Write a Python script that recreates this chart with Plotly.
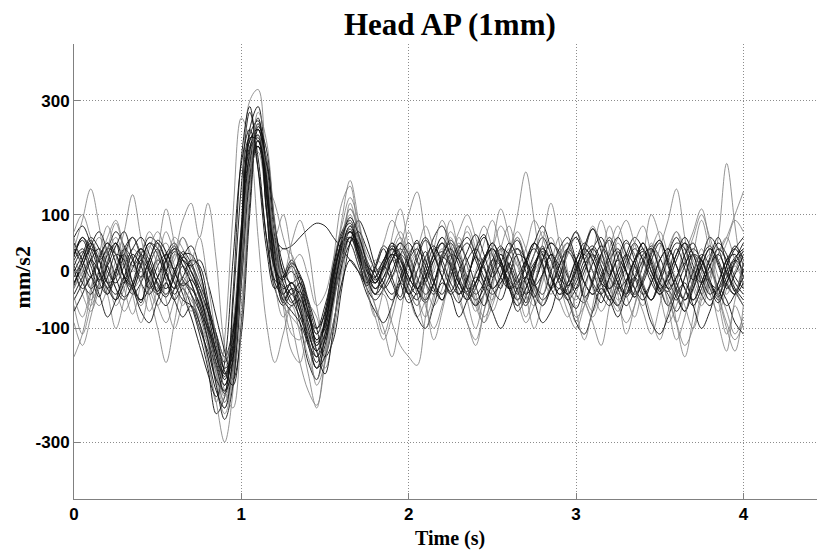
import plotly.graph_objects as go

# Sampling grid (s)
time_s = [round(0.05 * i, 2) for i in range(81)]

# Each trial: 81 samples, t = 0.00 ... 4.00 s (step 0.05 s), values in mm/s2
trial_01 = [30, 55, 20, -20, -40, -5, 40, 60, 25, -15, -35, 0, 35, 20,
            -10, -40, -90, -150, -200, -140, 60, 230, 250, 130, 10, -40, -20, -50, -110, -140, -80, 10, 70, 90, 40, -10, -30,
            -10, 30, 50, 15, -30, -55, -20, 25, 55, 30, -10, -40, -20, 20, 45, 10, -35, -60, -25, 20, 50, 35, -5, -40, -55, -15, 30, 60, 25, -20, -45, -10, 35, 55, 15, -30, -50, -15, 25, 45, 10, -25, -40, 5]
trial_02 = [-20, 10, 45, 70, 35, -10, -45, -25, 15, 50, 30, -15, -50, -30,
            -60, -110, -170, -250, -220, -60, 150, 280, 200, 60, -30, -60, -40, -90, -160, -190, -110, -20, 50, 60, 20, -20, 10,
            45, 25, -20, -55, -35, 10, 60, 80, 40, -15, -50, -30, 15, 40, 20, -25, -70, -45, 5, 40, 20, -20, -40, -10, 35, 75, 50, 5, -30, -60, -35, 10, 45, 25, -15, -45, -70, -30, 20, 60, 40, -5, -35, -60]
trial_03 = [60, 80, 50, 20, 40, 70, 45, 10, 30, 60, 50, 20, 5, 25,
            10, -30, -70, -120, -160, -110, 40, 190, 220, 140, 40, -10, 0, -30, -80, -100, -60, 0, 50, 70, 45, 10, -15,
            5, 30, 20, -10, -30, -10, 20, 35, 15, -20, -35, -5, 25, 40, 15, -15, -30, -10, 15, 35, 20, -10, -25, 0, 30, 45, 20, -10, -30, -15, 20, 35, 10, -20, -35, -10, 15, 30, 5, -20, -30, 0, 25, 40]
trial_04 = [-90, -130, -80, -20, 10, -30, -70, -40, 0, -20, -60, -90, -50, -10,
            -40, -90, -160, -230, -300, -210, 60, 300, 320, 150, -20, -80, -60, -110, -180, -240, -150, -30, 60, 100, 50, -10, -40,
            -20, 20, 10, -40, -80, -50, 0, 30, 0, -40, -90, -120, -70, -20, 10, -20, -60, -40, 0, 20, -10, -50, -80, -40, 10, 40, 10, -30, -60, -90, -60, -10, 20, -10, -50, -90, -130, -100, -40, 0, -30, -70, -110, -80]
trial_05 = [40, 90, 145, 80, -10, -50, -20, 30, 10, -40, -100, -160, -90, -20,
            0, -50, -110, -180, -230, -160, 30, 200, 240, 160, 120, 60, 10, -60, -130, -170, -100, -10, 90, 160, 90, 10, -30,
            -20, 30, 60, 20, -40, -80, -40, 20, 60, 30, 80, 40, -30, -70, -30, 30, 70, 40, -20, -60, -30, 20, 50, 10, -40, -70, -20, 40, 80, 30, -30, -60, -10, 40, 90, 145, 60, -20, -50, -10, 60, 190, 80, -30]
trial_06 = [-150, -110, -40, 20, -10, -60, -30, 20, 40, 0, -40, -20, 30, 10,
            -40, -90, -130, -190, -240, -180, -20, 170, 230, 150, 40, -30, -90, -160, -210, -235, -160, -50, 40, 70, 30, -20, -60,
            -100, -150, -80, 0, 30, -20, -60, -30, 20, 50, 10, -40, -80, -50, 0, 40, 10, -40, -60, -20, 30, 20, -30, -80, -60, -10, 30, 0, -50, -30, 20, 50, 10, -40, -90, -60, -10, 30, 0, -40, -70, -30, 10, -20]
trial_07 = [20, -10, -50, -20, 30, 60, 20, -30, -10, 40, 70, 30, -20, -10,
            -40, -90, -150, -230, -120, 100, 270, 230, 60, -90, -160, -110, -60, -50, -90, -130, -90, -20, 40, 60, 30, -10, -20,
            10, 40, 20, -30, -60, -20, 30, 60, 20, -30, -10, 40, 80, 40, -20, 30, 100, 175, 90, 0, -40, -10, 30, 60, 20, -30, -70, -40, 10, 50, 30, -20, -50, -20, 30, 70, 40, -10, -40, -10, 40, 20, -30, -60]
trial_08 = [50, 20, -30, -60, -30, 20, 70, 135, 60, 0, -30, 10, 60, 40,
            0, -40, -100, -140, -170, -90, 80, 210, 230, 110, 20, 40, 30, -20, -70, -110, -70, 20, 120, 150, 60, -10, 20,
            10, -10, 40, 100, 140, 60, -20, -50, -20, 40, 70, 30, -20, -50, -10, 30, 60, 20, -30, -60, -20, 30, 50, 10, -50, -90, -130, -60, 0, 50, 30, -20, -50, -10, 40, 70, 20, -30, -60, -20, 30, 60, 20, -10]
trial_09 = [-30, 10, 50, 30, -20, -50, -10, 40, 20, -30, -60, -20, 30, 60,
            20, -30, -80, -140, -190, -150, 20, 180, 240, 170, 50, -20, -40, -60, -100, -130, -110, -30, 60, 110, 70, 10, -40,
            -40, -90, -130, -150, -165, -80, 10, 40, 0, -50, -90, -130, -70, 0, 40, 10, -30, -60, -20, 30, 60, 20, -30, -50, -10, 30, 10, -40, -70, -30, 20, 50, 10, -30, -60, -20, 40, 20, -20, 0, 30, 60, 100, 140]
trial_10 = [10, -20, -40, 0, 40, 30, -10, -30, 10, 50, 40, 0, -30, -10,
            20, 10, -50, -130, -180, -120, 70, 220, 240, 120, 0, -50, -30, -40, -90, -130, -90, -20, 40, 80, 60, 20, -10,
            -30, -10, 30, 50, 20, -20, -40, -10, 30, 20, -20, -50, -30, 10, 40, 30, -10, -40, -20, 20, 50, 30, -10, -30, 0, 40, 60, 20, -20, -40, -10, 30, 40, 0, -30, -50, -10, 30, 20, -20, -40, -10, 20, 0]
trial_11 = [-50, -20, 20, 40, 10, -30, -50, -20, 20, 0, -40, -60, -30, 10,
            -20, -70, -120, -170, -210, -170, 0, 190, 260, 190, 60, -20, -50, -80, -120, -160, -120, -40, 30, 60, 30, -10, -40,
            -20, 20, 40, 10, -30, -20, 20, 50, 30, -10, -40, -60, -20, 20, 10, -30, -50, -10, 30, 60, 30, -20, -50, -30, 10, 30, 0, -40, -60, -20, 20, 50, 20, -20, -40, -70, -40, 0, 30, 10, -30, -60, -40, -10]
trial_12 = [30, 60, 40, 0, -30, 0, 40, 20, -20, -40, -10, 30, 50, 20,
            10, 20, -20, -80, -140, -190, -110, 100, 250, 200, 80, 0, -20, -10, -50, -100, -150, -120, -30, 50, 90, 60, 10,
            -20, -40, -10, 30, 50, 20, -20, -40, 0, 40, 60, 30, -10, -30, -10, 30, 40, 0, -40, -60, -30, 10, 40, 20, -20, -40, -10, 30, 60, 30, -10, -40, -20, 20, 40, 10, -30, -50, -20, 20, 50, 30, -10, -30]
trial_13 = [-10, 20, 50, 20, -20, -10, 30, 60, 30, -20, -40, 0, 40, 30,
            0, -30, -70, -110, -150, -100, 50, 200, 220, 130, 60, 40, 45, 60, 75, 85, 80, 60, 40, 20, 0, -20, -10,
            20, 40, 10, -30, -50, -10, 30, 60, 30, -20, -40, -20, 20, 50, 20, -20, -50, -30, 10, 40, 20, -20, -40, 0, 40, 20, -20, -50, -20, 20, 50, 20, -20, -40, -10, 30, 60, 30, -10, -40, -20, 20, 40, 10]
trial_14 = [0, -40, -70, -30, 20, 50, 20, -30, -60, -20, 30, 50, 10, -30,
            -50, -80, -130, -200, -250, -190, 10, 200, 260, 170, 30, -60, -80, -100, -150, -190, -140, -40, 50, 90, 50, 0, -30,
            0, 40, 70, 30, -20, -50, -20, 30, 70, 40, -10, -50, -90, -60, -10, 30, 60, 20, -30, -60, -20, 30, 50, 0, -50, -80, -40, 10, 50, 20, -30, -70, -110, -60, 0, -90, -150, -80, 0, 30, -40, -100, -140, -60]
trial_15 = [40, 10, -30, -10, 30, 50, 10, -30, -50, -10, 20, 0, -40, -20,
            -40, -70, -100, -160, -200, -130, 40, 210, 270, 170, 40, -10, 10, -20, -70, -110, -70, 10, 60, 50, 10, -30, -50,
            -30, 0, 30, 10, -30, -50, -20, 30, 50, 20, -30, -60, -40, 0, 30, 10, -20, 10, 50, 80, 40, -10, -40, -20, 20, 40, 10, -30, -10, 30, 60, 40, 0, -30, -60, -30, 10, 40, 20, -20, -50, -20, 20, 50]
trial_16 = [-30, 0, 30, 60, 30, -10, 20, 60, 30, -10, 20, 70, 40, 90,
            120, 60, 120, 20, -130, -180, -60, 150, 230, 200, 90, -10, 50, 90, 40, -60, -120, -60, 40, 110, 80, 20, -20,
            0, 40, 20, -30, -60, -20, 40, 90, 50, -10, -40, 0, 50, 90, 40, -10, -50, -20, 30, 70, 30, -20, -50, -10, 40, 80, 40, -10, -40, 0, 50, 80, 30, -20, -60, -20, 30, 70, 110, 50, -10, -40, 0, 40]
trial_17 = [20, 40, 10, -30, -10, 30, 20, -20, -50, -30, 10, 30, 0, -40,
            -80, -130, -180, -220, -160, 20, 190, 250, 180, 60, -20, -40, -20, -60, -120, -170, -130, -50, 20, 60, 40, 0, -30,
            -10, 20, 50, 30, -10, -40, -20, 20, 40, 10, -30, -20, 20, 50, 20, -30, -60, -30, 10, 30, 0, -40, -20, 20, 50, 30, -10, -40, -60, -20, 20, 40, 0, -30, -10, 30, 50, 10, -40, -60, -20, 20, 30, -10]
trial_18 = [-60, -110, -60, 0, -40, -100, -50, 10, -20, -70, -30, 20, -10, -60,
            -30, -60, -120, -180, -230, -180, -20, 170, 230, 160, 50, -60, -140, -160, -110, -140, -170, -110, -20, 60, 40, -30, -80,
            -120, -80, -20, 20, -10, -60, -100, -60, 0, 30, -20, -70, -40, 10, 40, 0, -50, -90, -60, -10, 20, -20, -70, -100, -60, -10, 20, -20, -60, -30, 10, -30, -80, -120, -70, -20, -60, -100, -50, 0, -40, -90, -120, -90]
trial_19 = [0, 30, 60, 40, 0, -20, 10, 40, 60, 30, -10, -30, 0, 30,
            30, 0, -60, -120, -170, -150, 0, 170, 230, 160, 30, -40, -60, -50, -80, -120, -100, -30, 30, 70, 50, 10, 0,
            20, 50, 30, -10, -30, 0, 40, 20, -20, -40, -10, 30, 60, 30, -10, -30, -10, 20, 40, 10, -30, -50, -20, 20, 40, 20, -20, -30, 0, 30, 10, -30, -50, -20, 20, 50, 40, 0, -20, 10, 40, 20, -20, -40]
trial_20 = [-20, 10, 40, 20, -20, -40, -10, 30, 10, -30, -10, 20, 40, 10,
            -20, -60, -120, -200, -260, -200, 30, 250, 290, 170, 20, -30, -20, -40, -100, -150, -120, -40, 40, 80, 40, 0, -10,
            10, -20, -50, -20, 30, 60, 30, -10, -40, -20, 20, 40, 10, -30, -50, -10, 30, 20, -20, -40, 0, 40, 60, 20, -20, -40, -20, 20, 40, 0, -40, -20, 20, 50, 20, -20, -50, -30, 10, 40, 20, -20, -40, -20]
trial_21 = [50, 20, -10, 20, 50, 30, -10, -40, -20, 20, 50, 20, -20, -50,
            -60, -100, -140, -190, -210, -40, 200, 290, 180, 40, -30, -10, 20, -10, -70, -120, -90, -10, 50, 70, 30, -10, -20,
            10, 40, 20, -20, -40, -10, 30, 50, 10, -30, -50, -20, 20, 40, 10, -30, -20, 20, 50, 30, -10, -40, -30, 10, 30, 0, -40, -60, -30, 10, 40, 20, -10, -40, -20, 20, 50, 30, -20, -50, -30, 10, 40, 60]
trial_22 = [-40, -10, 20, 0, -30, -50, -20, 20, 40, 10, -20, -40, -10, 20,
            0, -40, -90, -140, -180, -160, -20, 160, 220, 190, 80, 10, -30, -70, -110, -140, -110, -50, 10, 50, 70, 40, 0,
            -30, -50, -20, 20, 40, 10, -30, -50, -10, 30, 50, 20, -20, -40, -20, 10, 40, 20, -20, -50, -30, 10, 40, 60, 20, -20, -40, -10, 20, 0, -30, -50, -20, 20, 40, 10, -30, -60, -30, 10, 30, 0, -30, -50]
trial_23 = [70, 100, 60, 20, 60, 90, 40, 0, 30, 70, 40, 0, 20, 60,
            30, -10, -60, -110, -150, -120, 30, 180, 210, 120, 20, -20, 10, 30, -10, -60, -40, 20, 80, 130, 90, 30, 10,
            50, 90, 60, 20, 40, 80, 40, 0, 30, 70, 100, 60, 10, 40, 80, 50, 10, 40, 90, 60, 20, 0, 30, 70, 40, 0, -20, 20, 60, 90, 50, 10, 40, 70, 30, -10, 20, 60, 100, 60, 20, 50, 90, 70]
trial_24 = [-70, -40, -10, -40, -80, -50, -10, -30, -70, -90, -50, -20, -50, -80,
            -60, -90, -150, -210, -240, -150, 50, 230, 250, 140, 10, -50, -70, -90, -130, -170, -150, -90, -20, 20, 0, -40, -70,
            -90, -60, -20, -40, -80, -100, -60, -20, -40, -80, -50, -10, -30, -70, -100, -70, -30, -10, -50, -90, -70, -30, -50, -90, -110, -70, -30, -50, -80, -40, -10, -40, -90, -110, -80, -40, -20, -60, -100, -70, -30, -50, -90, -110]
trial_25 = [10, 35, -5, -45, 15, 50, -10, -25, 30, 5, -35, 20, 45, -15,
            -30, -55, -105, -165, -215, -155, 50, 215, 235, 110, -15, -25, -55, -35, -75, -125, -95, -5, 45, 75, 25, -25, 5,
            40, -10, -45, 20, 55, -5, -35, 25, 10, -40, -15, 40, 65, 5, -30, 15, -20, -55, 0, 45, -10, -30, 35, 10, -45, -20, 30, 55, -5, -40, 10, 50, 15, -35, -5, 40, 5, -50, -20, 25, 60, 10, -35, 15]
trial_26 = [-25, 20, 55, 0, -40, 5, 30, -20, -55, 10, 40, -5, -30, 25,
            45, 5, -70, -140, -190, -130, 60, 240, 265, 150, 10, -55, -30, -70, -125, -150, -85, 0, 65, 85, 35, -15, -40,
            15, 50, 5, -40, 0, 35, -15, -50, 5, 45, 20, -25, -60, -15, 30, -5, -40, 15, 50, 15, -30, -10, 40, 70, 20, -25, -55, -10, 35, 0, -45, -15, 30, 55, 10, -35, -70, -20, 20, -15, -45, 10, 45, 20]
trial_27 = [60, 0, -60, -20, 40, 85, 30, -40, -90, -30, 35, 110, 50, -20,
            -70, -30, -90, -170, -220, -170, -10, 180, 240, 180, 60, 100, 30, -40, -110, -200, -160, -60, 30, 120, 60, -30, -80,
            -30, 60, 110, 40, -40, -100, -50, 30, 90, 30, -50, -100, -40, 40, 110, 60, -20, -80, -30, 50, 120, 50, -30, -90, -40, 30, 90, 40, -40, -110, -60, 20, 100, 60, -20, -90, -40, 30, 90, 30, -50, -110, -50, 20]
trial_28 = [5, -30, -10, 25, 50, 15, -20, 5, 40, 20, -25, -45, -5, 35,
            15, -20, -60, -110, -175, -200, -90, 120, 255, 215, 80, -5, -40, -20, -60, -140, -180, -100, 10, 60, 45, 5, -20,
            5, 30, -5, -40, -20, 25, 45, 10, -30, -55, -15, 25, 5, -30, -10, 35, 55, 15, -25, -5, 30, 0, -40, -65, -25, 15, 45, 20, -20, -45, -15, 20, 40, 5, -30, -10, 30, 50, 10, -30, -55, -20, 15, 35]
trial_29 = [-45, -80, -30, 30, 80, 30, -30, -75, -20, 45, 10, -50, -100, -50,
            10, 60, -20, -120, -210, -240, -100, 140, 280, 230, 80, -40, -110, -120, -60, -80, -140, -90, 0, 80, 60, -10, -60,
            -110, -60, 20, 70, 20, -50, -120, -70, 0, 60, 10, -60, -90, -30, 40, 80, 20, -40, -100, -50, 10, 60, 0, -70, -120, -60, 20, 80, 30, -40, -80, -20, 50, 10, -60, -120, -80, -10, 40, -20, -90, -140, -60, -100]
trial_30 = [25, 60, 30, -15, 10, 45, 70, 25, -10, 20, 55, 35, 0, -25,
            -15, -45, -95, -150, -185, -110, 80, 235, 230, 105, 5, -15, 15, -5, -55, -100, -75, -10, 55, 95, 65, 15, -20,
            10, 45, 25, -15, 20, 55, 30, -10, -35, 0, 35, 65, 30, -10, 15, 50, 25, -20, -45, -5, 30, 10, -25, 5, 45, 75, 35, -5, 25, 55, 20, -25, -50, -10, 30, 60, 25, -15, 10, 40, 15, -30, -5, 30]

trials = [trial_01, trial_02, trial_03, trial_04, trial_05, trial_06, trial_07, trial_08,
          trial_09, trial_10, trial_11, trial_12, trial_13, trial_14, trial_15, trial_16,
          trial_17, trial_18, trial_19, trial_20, trial_21, trial_22, trial_23, trial_24,
          trial_25, trial_26, trial_27, trial_28, trial_29, trial_30]
gray_trials = {4, 5, 6, 7, 8, 9, 14, 16, 18, 23, 27, 29}

x_ticks = [0, 1, 2, 3, 4]
y_ticks = [-300, -100, 0, 100, 300]

fig = go.Figure()
for k, tr in enumerate(trials, start=1):
    is_gray = k in gray_trials
    fig.add_trace(go.Scatter(
        x=time_s[:len(tr)], y=tr, mode="lines",
        line=dict(color="#7a7a7a" if is_gray else "#101010",
                  width=0.8 if is_gray else 0.9, shape="spline", smoothing=1.0),
        showlegend=False, hoverinfo="skip"))

tick_font = dict(family="Liberation Sans", size=17, color="black")
serif = "Liberation Serif"

axis_common = dict(
    showline=True, linecolor="#808080", linewidth=1, mirror=False,
    ticks="inside", ticklen=6, tickcolor="#808080", tickwidth=1,
    showgrid=True, gridcolor="#8c8c8c", gridwidth=1, griddash="1px,2px",
    zeroline=False, tickfont=tick_font,
)

fig.update_layout(
    width=817, height=553,
    margin=dict(l=74, r=0, t=44, b=54),
    paper_bgcolor="white", plot_bgcolor="white",
    xaxis=dict(range=[0, 4.44], tickvals=x_ticks, ticktext=["<b>%d</b>" % v for v in x_ticks], **axis_common),
    yaxis=dict(range=[-400, 400], tickvals=y_ticks, ticktext=["<b>%d</b>" % v for v in y_ticks], **axis_common),
    annotations=[
        dict(text="<b>Head AP (1mm)</b>", xref="paper", yref="paper", x=0.506, y=1.0,
             xanchor="center", yanchor="bottom", showarrow=False,
             font=dict(family=serif, size=31, color="black")),
        dict(text="<b>Time (s)</b>", xref="paper", yref="paper", x=0.506, y=0.0, yshift=-26,
             xanchor="center", yanchor="top", showarrow=False,
             font=dict(family=serif, size=20, color="black")),
        dict(text="<b>mm/s2</b>", xref="paper", yref="paper", x=0.0, xshift=-52, y=0.487,
             xanchor="center", yanchor="middle", textangle=-90, showarrow=False,
             font=dict(family=serif, size=22, color="black")),
    ],
)

fig.write_html("out.html")
